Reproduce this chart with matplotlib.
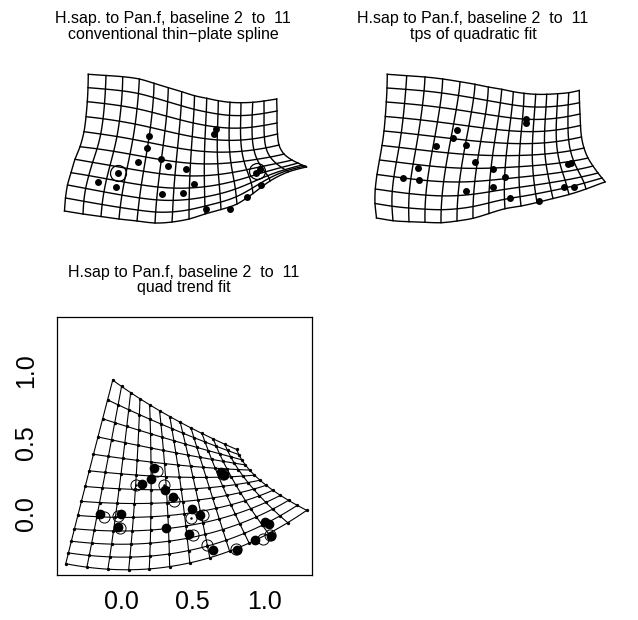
import matplotlib.pyplot as plt
import numpy as np

plt.rcParams['font.family'] = ['Liberation Sans', 'DejaVu Sans']

W, H = 638, 620

# ---- warped grid outlines (grid has 15 columns x 11 rows of nodes) ----
# panel 1: conventional thin-plate spline
tps_top = [(48.3, 165.7), (66, 164.5), (82.7, 163.3), (99.3, 161), (114, 156.7),
           (128.3, 152.3), (141.7, 148.3), (154.5, 144.3), (166.7, 141.7), (178.3, 139.3),
           (190, 137.7), (201, 137.3), (212.7, 137.7), (224, 139), (236.7, 141)]
tps_bottom = [(24.5, 29), (43, 26), (61, 23.5), (79, 21), (97, 19), (115, 17), (132, 18),
              (149, 21), (165, 26), (181, 30.5), (197, 36), (213, 46.5), (230, 59),
              (248, 68), (266.5, 73)]
tps_left = [(48.3, 165.7), (48, 152.3), (47.3, 138.3), (46, 123.3), (44, 108.3), (40, 93.3),
            (35, 80.7), (31, 67.3), (27.5, 55), (25.5, 42), (24.5, 29)]
tps_right = [(236.7, 141), (237, 129), (237, 117), (237.5, 106), (239, 95), (244, 86),
             (252, 80), (258, 77), (262, 75), (265, 74), (266.5, 73)]
tps_pts = [(58.3, 58.3), (78.3, 66.7), (76, 53.3), (97.7, 78.3), (106.7, 91.7), (109.3, 104),
           (120.7, 81), (128.3, 74.3), (146, 71.3), (154, 56.3), (121.7, 45.7), (143.3, 47.3),
           (166, 31), (190, 31), (206.7, 43.3), (221, 55), (216, 67.3), (220, 70.7),
           (174, 106), (176, 110.7)]
tps_rings = [(78.3, 66.7), (217.5, 69)]

# panel 2: tps of quadratic fit
quad_top = [(47.3, 165.7), (66.7, 164.3), (85, 163), (102.7, 161), (120, 158.3), (135, 155.7),
            (148.3, 153), (161.7, 150.7), (173.3, 148.3), (184, 146.7), (195.7, 145.7),
            (206.7, 145.7), (217.7, 146.3), (228.7, 147.3), (239.3, 149.5)]
quad_bottom = [(36.5, 22), (53, 19.3), (69, 18.3), (85, 17.7), (101, 17.3), (117, 19),
               (133, 21.7), (149, 26.5), (165, 31.3), (181, 34), (197, 37.5), (213, 41.5),
               (229, 45.5), (246, 51), (265, 58)]
quad_left = [(47.3, 165.7), (47, 152), (46.3, 138), (45.3, 123.5), (44, 109), (42, 94.5),
             (39.5, 80), (37, 65.5), (35.3, 51), (35, 36.5), (36.5, 22)]
quad_right = [(239.3, 149.5), (239.5, 137.3), (240, 126), (240.5, 114.5), (241.5, 103),
              (244, 92), (248, 82), (253, 74), (258, 67), (262, 62), (265, 58)]
quad_pts = [(62.7, 61.7), (78.3, 72.3), (79.3, 60), (95.7, 94.3), (112.7, 101.7), (116.7, 109.7),
            (126.3, 95), (135, 78.3), (152.7, 70.7), (165, 63.3), (126.3, 49.3), (153.3, 53),
            (170, 41.7), (199.3, 39), (224, 52.7), (234.3, 53), (228.3, 76), (231, 77.3),
            (185.7, 120.7), (185.7, 116.7)]

# panel 3: quadratic trend, 3x3 control nodes (rows bottom -> top, cols left -> right)
trend_ctrl = [[(-0.386, -0.351), (0.48, -0.345), (1.296, 0.023)],
              [(-0.25, 0.19), (0.42, 0.17), (0.97, 0.234)],
              [(-0.058, 0.935), (0.34, 0.68), (0.807, 0.449)]]
trend_n = 13
trend_dots = [(0.230, 0.316), (0.207, 0.245), (0.144, 0.21), (0.307, 0.168), (0.365, 0.117),
              (0.493, 0.035), (0.551, -0.012), (-0.002, -0.005), (-0.147, 0.0), (-0.019, -0.094),
              (0.312, -0.098), (0.477, -0.145), (0.644, -0.257), (0.812, -0.257), (0.70, 0.29),
              (0.72, 0.27), (1.005, -0.06), (1.03, -0.07), (1.045, -0.156), (0.935, -0.183)]
trend_rings = [(0.249, 0.299), (0.105, 0.203), (0.30, 0.203), (0.37, 0.088), (0.486, -0.028),
               (0.574, -0.012), (-0.019, -0.017), (-0.119, -0.024), (-0.007, -0.101),
               (0.50, -0.152), (0.602, -0.222), (0.802, -0.245), (1.04, -0.15), (0.99, -0.175),
               (0.71, 0.275)]
trend_centred = [(0.105, 0.203), (0.30, 0.203), (0.486, -0.028), (-0.019, -0.017), (0.602, -0.222)]
ticks = [0.0, 0.5, 1.0]
tick_labels = ['0.0', '0.5', '1.0']


def tps_solve(uv, xy):
    def kern(d2):
        with np.errstate(divide='ignore', invalid='ignore'):
            return np.where(d2 > 0, 0.5 * d2 * np.log(d2), 0.0)
    n = len(uv)
    L = np.zeros((n + 3, n + 3))
    L[:n, :n] = kern(((uv[:, None] - uv[None]) ** 2).sum(-1))
    P = np.hstack([np.ones((n, 1)), uv])
    L[:n, n:] = P
    L[n:, :n] = P.T
    rhs = np.zeros((n + 3, 2))
    rhs[:n] = xy
    coef = np.linalg.solve(L, rhs)

    def warp(q):
        k = kern(((q[:, None] - uv[None]) ** 2).sum(-1))
        return k @ coef[:n] + np.hstack([np.ones((len(q), 1)), q]) @ coef[n:]
    return warp


def draw_tps_grid(ax, top, bottom, left, right):
    nx, ny = len(top), len(left)
    uv, xy = [], []
    for i in range(nx):
        uv += [(i, 0), (i, ny - 1)]
        xy += [top[i], bottom[i]]
    for j in range(1, ny - 1):
        uv += [(0, j), (nx - 1, j)]
        xy += [left[j], right[j]]
    warp = tps_solve(np.array(uv, float), np.array(xy, float))
    for i in range(nx):
        t = np.linspace(0, ny - 1, 60)
        p = warp(np.column_stack([np.full_like(t, i), t]))
        ax.plot(p[:, 0], p[:, 1], color='black', lw=1.0)
    for j in range(ny):
        s = np.linspace(0, nx - 1, 80)
        p = warp(np.column_stack([s, np.full_like(s, j)]))
        ax.plot(p[:, 0], p[:, 1], color='black', lw=1.0)


def quad_map(ctrl, u, v):
    c = np.array(ctrl, float)

    def basis(t):
        return [2 * (t - 0.5) * (t - 1), -4 * t * (t - 1), 2 * t * (t - 0.5)]
    bu, bv = basis(u), basis(v)
    out = np.zeros(np.shape(u) + (2,))
    for b in range(3):
        for a in range(3):
            out += (bu[a] * bv[b])[..., None] * c[b, a]
    return out


fig = plt.figure(figsize=(W / 100, H / 100), dpi=100)

for k, (top, bottom, left, right, pts) in enumerate([
        (tps_top, tps_bottom, tps_left, tps_right, tps_pts),
        (quad_top, quad_bottom, quad_left, quad_right, quad_pts)]):
    x0 = 40 + 300 * k
    ax = fig.add_axes([x0 / W, (H - 240) / H, 280 / W, 190 / H])
    ax.set_xlim(0, 280)
    ax.set_ylim(0, 190)
    ax.axis('off')
    draw_tps_grid(ax, top, bottom, left, right)
    p = np.array(pts)
    ax.plot(p[:, 0], p[:, 1], 'o', color='black', ms=5, mew=0)
    if k == 0:
        r = np.array(tps_rings)
        ax.plot(r[:, 0], r[:, 1], 'o', mfc='none', mec='black', ms=11.5, mew=0.9)

# quadratic trend panel with axes
ax3 = fig.add_axes([57 / W, (H - 575) / H, 255 / W, 258 / H])
ax3.set_xlim(-0.447, 1.333)
ax3.set_ylim(-0.43, 1.377)
t = np.linspace(0, 1, 100)
g = np.linspace(0, 1, trend_n)
for gi in g:
    p = quad_map(trend_ctrl, np.full_like(t, gi), t)
    ax3.plot(p[:, 0], p[:, 1], color='black', lw=0.8)
    p = quad_map(trend_ctrl, t, np.full_like(t, gi))
    ax3.plot(p[:, 0], p[:, 1], color='black', lw=0.8)
U, V = np.meshgrid(g, g)
nodes = quad_map(trend_ctrl, U, V).reshape(-1, 2)
ax3.plot(nodes[:, 0], nodes[:, 1], 'o', color='black', ms=2.4, mew=0)
d = np.array(trend_dots)
ax3.plot(d[:, 0], d[:, 1], 'o', color='black', ms=7, mew=0)
r = np.array(trend_rings)
ax3.plot(r[:, 0], r[:, 1], 'o', mfc='none', mec='black', ms=8, mew=0.7)
c = np.array(trend_centred)
ax3.plot(c[:, 0], c[:, 1], 'o', color='black', ms=1.8, mew=0)

ax3.set_xticks(ticks)
ax3.set_yticks(ticks)
ax3.set_xticklabels(tick_labels, fontsize=18)
ax3.set_yticklabels(tick_labels, fontsize=18, rotation=90, va='center')
ax3.tick_params(length=0)
ax3.tick_params(axis='x', pad=11)
ax3.tick_params(axis='y', pad=13.5)
for s in ax3.spines.values():
    s.set_linewidth(0.9)

titles = [(173, 23.3, 'H.sap. to Pan.f, baseline 2  to  11', 'conventional thin\u2212plate spline'),
          (473, 23.3, 'H.sap to Pan.f, baseline 2  to  11', 'tps of quadratic fit'),
          (184, 276.7, 'H.sap to Pan.f, baseline 2  to  11', 'quad trend fit')]
for tx, ty, l1, l2 in titles:
    fig.text(tx / W, 1 - ty / H, l1, ha='center', va='baseline', fontsize=11.5)
    fig.text(tx / W, 1 - (ty + 15.5) / H, l2, ha='center', va='baseline', fontsize=11.5)

fig.savefig('out.png', dpi=100)
